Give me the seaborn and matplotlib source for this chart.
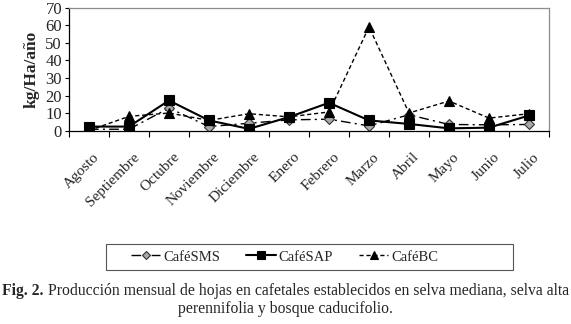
import numpy as np
import pandas as pd
import matplotlib
matplotlib.use("Agg")
import matplotlib.pyplot as plt
import matplotlib.transforms as mtransforms
from matplotlib.patches import Rectangle
import seaborn as sns

months = ["Agosto", "Septiembre", "Octubre", "Noviembre", "Diciembre", "Enero",
          "Febrero", "Marzo", "Abril", "Mayo", "Junio", "Julio"]
cafe_sms = [1.0, 1.0, 13.0, 2.5, 4.4, 6.3, 6.7, 2.9, 9.2, 3.7, 3.5, 3.7]
cafe_sap = [2.5, 2.5, 17.3, 6.0, 1.2, 7.9, 16.0, 6.0, 4.0, 1.5, 1.9, 8.8]
cafe_bc = [0.3, 8.3, 10.2, 6.0, 9.8, 8.0, 10.8, 59.0, 10.2, 17.0, 7.3, 9.8]
yticks = [0, 10, 20, 30, 40, 50, 60, 70]

sns.set_theme(style="white")
plt.rcParams['font.family'] = ['Liberation Serif', 'DejaVu Serif']

df = pd.DataFrame({"mes": np.arange(len(months)),
                   "CaféSMS": cafe_sms, "CaféSAP": cafe_sap, "CaféBC": cafe_bc})

fig = plt.figure(figsize=(5.71, 3.24), dpi=100)
ax = fig.add_axes([69/571, 1 - 131/324, 480/571, 123.5/324])

styles = {
    "CaféSMS": dict(marker="D", markersize=5, markerfacecolor="#a8a8a8",
                    markeredgecolor="#333333", dashes=(7, 3, 1.5, 3), lw=1.0),
    "CaféSAP": dict(marker="s", markersize=7, markerfacecolor="black",
                    markeredgecolor="black", dashes=(None, None), lw=1.5),
    "CaféBC": dict(marker="^", markersize=7, markerfacecolor="black",
                   markeredgecolor="black", dashes=(3, 2), lw=1.0),
}
handles = []
for name in ["CaféSMS", "CaféSAP", "CaféBC"]:
    st = dict(styles[name])
    dashes = st.pop("dashes")
    sns.lineplot(data=df, x="mes", y=name, ax=ax, color="black", label=name,
                 markeredgewidth=0.8, legend=False, **st)
    line = ax.lines[-1]
    if dashes[0] is not None:
        line.set_dashes(dashes)
    handles.append(line)

ax.set_xlim(-0.5, len(months) - 0.5)
ax.set_ylim(0, 70)
ax.set_yticks(yticks)
ax.set_yticklabels([str(v) for v in yticks], fontsize=12)
ax.set_xticks(np.arange(len(months)))
ax.set_xticklabels(months, rotation=45, ha="right", rotation_mode="anchor", fontsize=11)
ax.set_xticks(np.arange(len(months) + 1) - 0.5, minor=True)
ax.tick_params(axis="x", which="major", length=0, pad=14)
ax.tick_params(axis="x", which="minor", length=4, width=0.8, color="black", direction="out", bottom=True)
ax.tick_params(axis="y", length=3, width=0.8, color="black", direction="out", left=True, pad=2)
offset = mtransforms.ScaledTranslation(4/100, 0, fig.dpi_scale_trans)
for lab in ax.get_xticklabels():
    lab.set_transform(lab.get_transform() + offset)
ax.set_xlabel("")
ax.set_ylabel("kg/Ha/año", fontsize=12.5, fontweight="bold", labelpad=4)

for side in ["left", "bottom"]:
    ax.spines[side].set_color("black")
    ax.spines[side].set_linewidth(0.9)
for side in ["top", "right"]:
    ax.spines[side].set_color("#8c8c8c")
    ax.spines[side].set_linewidth(0.9)

leg = fig.legend(handles=handles, labels=["CaféSMS", "CaféSAP", "CaféBC"],
                 loc="center left", bbox_to_anchor=(131/571, 1 - 257/324), ncol=3,
                 frameon=False, fontsize=10.5, handlelength=2.0, markerscale=0.75,
                 columnspacing=1.8, borderpad=0, borderaxespad=0, handletextpad=0.2)
fig.patches.append(Rectangle((106/571, 1 - 270/324), 407/571, 26/324,
                             transform=fig.transFigure, fill=False,
                             edgecolor="#555555", linewidth=0.8))

# caption
fig.canvas.draw()
r = fig.canvas.get_renderer()
y1 = 1 - 291/324
t_bold = fig.text(0, y1, "Fig. 2.", fontsize=11.3, fontweight="bold", va="center", ha="left")
t_reg = fig.text(0, y1, " Producción mensual de hojas en cafetales establecidos en selva mediana, selva alta",
                 fontsize=11.3, va="center", ha="left")
wb = t_bold.get_window_extent(r).width
wr = t_reg.get_window_extent(r).width
start = (571 - (wb + wr)) / 2
t_bold.set_x(start / 571)
t_reg.set_x((start + wb) / 571)
fig.text(0.5, 1 - 309/324, "perennifolia y bosque caducifolio.", fontsize=11.3, va="center", ha="center")

fig.savefig("out.png", dpi=100)
